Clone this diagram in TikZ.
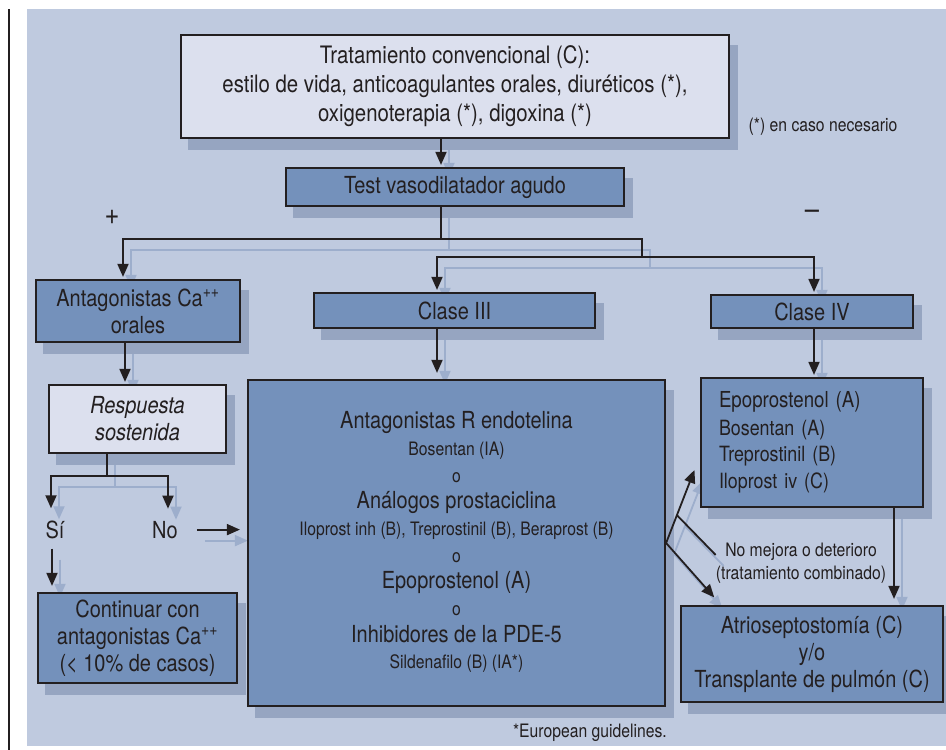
\documentclass[tikz,border=0pt]{standalone}
\usepackage{fontspec}
\setmainfont{TeX Gyre Heros}[FakeStretch=0.85]
\usetikzlibrary{arrows.meta,backgrounds}

\definecolor{ink}{RGB}{35,31,32}
\definecolor{panel}{RGB}{191,202,223}
\definecolor{boxblue}{RGB}{116,145,187}
\definecolor{boxlight}{RGB}{220,224,238}
\definecolor{shadegrey}{HTML}{96A5C1}
\definecolor{arrshade}{RGB}{157,174,204}

\newcommand{\bigfont}{\fontsize{23.5}{27}\selectfont}
\newcommand{\midfont}{\fontsize{21}{26.5}\selectfont}
\newcommand{\smallfont}{\fontsize{18.5}{23}\selectfont}

% connectors, drawn once as shadow (shifted) and once in ink
\newcommand{\flowlinks}[1]{%
\draw[arr] ([shift={(#1)}, xshift=-14pt]conv.south) -- ([shift={(#1)}, xshift=-14pt]test.north);
\draw[arr] ([shift={(#1)}, xshift=-14pt]test.south) -- ([shift={(#1)}]j1) -| ([shift={(#1)}, xshift=-15pt]antag.north);
\draw[link] ([shift={(#1)}]j1) -| ([shift={(#1)}]j2);
\draw[arr] ([shift={(#1)}]j2) -| ([shift={(#1)}, xshift=-17.5pt]clase3.north);
\draw[arr] ([shift={(#1)}]j2) -| ([shift={(#1)}, xshift=2pt]clase4.north);
\draw[arr] ([shift={(#1)}, xshift=-13pt]antag.south) -- ([shift={(#1)}, xshift=-12.5pt]resp.north);
\draw[arr, shorten >=6pt] ([shift={(#1)}, xshift=-17.5pt]clase3.south) -- ([shift={(#1)}, xshift=-19.5pt]big.north);
\draw[arr] ([shift={(#1)}, xshift=2pt]clase4.south) -- ([shift={(#1)}, xshift=2pt]epo.north);
\draw[arr, shorten >=12pt] ([shift={(#1)}, xshift=-30.5pt]resp.south) -- ([shift={(#1)}]j3) -| ([shift={(#1)}, xshift=-4pt]si.north);
\draw[arr, shorten >=12pt] ([shift={(#1)}]j3) -| ([shift={(#1)}, xshift=3pt]no.north);
\draw[arr, shorten <=10pt, shorten >=6pt] ([shift={(#1)}, xshift=-3pt]si.south) -- ([shift={(#1)}]sidown);
\draw[arr, shorten <=19pt, shorten >=7pt] ([shift={(#1)}]no.east) -- ([shift={(#1)}]noright);
\draw[arr, shorten >=6pt] ([shift={(#1)}, xshift=82pt]epo.south) -- ([shift={(#1)}]epodown);
\draw[arr, shorten >=15pt] ([shift={(#1)}]big.east) -- coordinate[pos=0.32] (kink) ([shift={(#1)}, yshift=-13.5pt]epo.west);
\draw[link] (kink) -- ([shift={(#1)}, yshift=8pt]nomejora.west);
\draw[arr, shorten >=10pt] ([shift={(#1)}]big.east) -- ([shift={(#1)}, xshift=41pt]atrio.north west);
}

\begin{document}
\begin{tikzpicture}[x=1pt, y=-1pt, color=ink,
  box/.style={draw=ink, line width=2.2pt, fill=boxblue, inner sep=0pt, align=center, font=\bigfont},
  lightbox/.style={box, fill=boxlight},
  shade/.style={draw=none, fill=shadegrey, inner sep=0pt},
  arr/.style={-{Triangle[length=13pt,width=11pt]}, line width=1.8pt, shorten >=2pt},
  link/.style={line width=1.8pt},
  word/.style={inner sep=0pt, font=\bigfont},
  sign/.style={inner sep=0pt, font=\fontsize{30}{30}\selectfont},
  note/.style={inner sep=0pt, font=\smallfont, align=center}]
\useasboundingbox (0,0) rectangle (946,750);

\begin{scope}[on background layer]
\fill[panel] (27,9) rectangle (946,746);
\end{scope}
\draw[line width=1.2pt] (9,9) -- (9,750);

% box shadows
\node[shade, minimum width=550pt, minimum height=105pt] (convshade) at (463,97.5) {};
\node[shade, minimum width=340pt, minimum height=40pt] (testshade) at (463,198) {};
\node[shade, minimum width=206pt, minimum height=64pt] (antagshade) at (146,322) {};
\node[shade, minimum width=283pt, minimum height=37pt] (clase3shade) at (462.5,321.5) {};
\node[shade, minimum width=204pt, minimum height=35pt] (clase4shade) at (820,322.5) {};
\node[shade, minimum width=179pt, minimum height=70pt] (respshade) at (145.5,430) {};
\node[shade, minimum width=201pt, minimum height=92pt] (contshade) at (145.5,649) {};
\node[shade, minimum width=419pt, minimum height=328pt] (bigshade) at (464.5,554) {};
\node[shade, minimum width=224pt, minimum height=131pt] (eposhade) at (820,453.5) {};
\node[shade, minimum width=264pt, minimum height=98pt] (atrioshade) at (820,665) {};

\node[lightbox, minimum width=548pt, minimum height=103pt, font=\fontsize{24}{29}\selectfont] (conv) at (455,86.5)
  {Tratamiento convencional (C):\\estilo de vida, anticoagulantes orales, diuréticos (*),\\oxigenoterapia (*), digoxina (*)};
\node[note] (nota) at (823,127) {(*) en caso necesario};
\node[box, minimum width=338pt, minimum height=38pt] (test) at (455,187) {Test vasodilatador agudo};

\node[sign] (plus) at (112,217) {+};
\node[sign] (minus) at (812,215) {–};

\node[box, minimum width=204pt, minimum height=62pt] (antag) at (138,311) {Antagonistas Ca\textsuperscript{++}\\orales};
\node[box, minimum width=281pt, minimum height=35pt] (clase3) at (454.5,310.5) {Clase III};
\node[box, minimum width=202pt, minimum height=33pt] (clase4) at (812,311.5) {Clase IV};

\node[lightbox, minimum width=177pt, minimum height=68pt, font=\bigfont\itshape] (resp) at (137.5,419) {Respuesta\\sostenida};
\node[word, anchor=base] (si) at (55,538) {Sí};
\node[word, anchor=base] (no) at (165,538) {No};
\node[box, minimum width=199pt, minimum height=90pt] (cont) at (137.5,638)
  {Continuar con\\antagonistas Ca\textsuperscript{++}\\(< 10\% de casos)};

\node[box, minimum width=417pt, minimum height=326pt] (big) at (456.5,543) {};
\node[word, anchor=base] (b1) at (456.5,428) {Antagonistas R endotelina};
\node[note, anchor=base] (b2) at (456.5,455) {Bosentan (IA)};
\node[note, anchor=base] (b3) at (456.5,482) {o};
\node[word, anchor=base] (b4) at (456.5,508) {Análogos prostaciclina};
\node[note, anchor=base] (b5) at (456.5,535) {Iloprost inh (B), Treprostinil (B), Beraprost (B)};
\node[note, anchor=base] (b6) at (456.5,562) {o};
\node[word, anchor=base] (b7) at (456.5,588) {Epoprostenol (A)};
\node[note, anchor=base] (b8) at (456.5,615) {o};
\node[word, anchor=base] (b9) at (456.5,642) {Inhibidores de la PDE-5};
\node[note, anchor=base] (b10) at (456.5,668) {Sildenafilo (B) (IA*)};

\node[box, minimum height=129pt, text width=186pt, inner xsep=18pt, align=left, font=\midfont] (epo) at (812,442.5)
  {{\fontsize{22}{26.5}\selectfont Epoprostenol (A)}\\[1pt]Bosentan (A)\\Treprostinil (B)\\Iloprost iv (C)};
\node[box, minimum width=262pt, minimum height=96pt] (atrio) at (812,654)
  {Atrioseptostomía (C)\\y/o\\Transplante de pulmón (C)};
\node[note] (nomejora) at (801,563) {No mejora o deterioro\\(tratamiento combinado)};
\node[note] (euro) at (590,733) {*European guidelines.};

\coordinate (j1) at (441,239);
\coordinate (j2) at (642,257);
\coordinate (j3) at (107,476);
\coordinate (sidown) at ([xshift=-3pt]si.south |- cont.north);
\coordinate (noright) at (no.east -| big.west);
\coordinate (epodown) at ([xshift=82pt]epo.south |- atrio.north);

% shadows under connectors
\begin{scope}[on background layer]
\begin{scope}[color=arrshade]
\flowlinks{8pt,-11pt}
\end{scope}
\end{scope}

\flowlinks{0pt,0pt}
\end{tikzpicture}
\end{document}
